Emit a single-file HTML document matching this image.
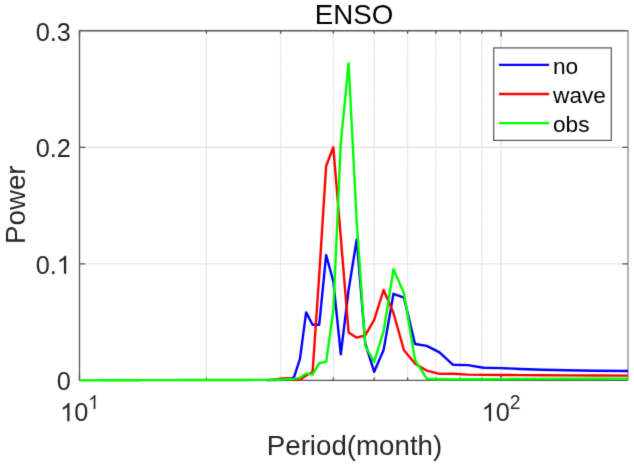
<!DOCTYPE html>
<html><head><meta charset="utf-8"><title>ENSO</title>
<style>html,body{margin:0;padding:0;background:#fff;}body{width:634px;height:466px;overflow:hidden;}svg{display:block;will-change:transform;}</style>
</head><body>
<svg width="634" height="466" viewBox="0 0 634 466">
<defs><filter id="bl" x="0" y="0" width="634" height="466" filterUnits="userSpaceOnUse" color-interpolation-filters="sRGB"><feConvolveMatrix order="3" kernelMatrix="0.01134 0.08382 0.01134 0.08382 0.61935 0.08382 0.01134 0.08382 0.01134" divisor="1" edgeMode="duplicate"/></filter></defs>
<g filter="url(#bl)"><rect width="634" height="466" fill="#fff"/>
<line x1="79.5" y1="263.85" x2="628.0" y2="263.85" stroke="#e6e6e6" stroke-width="1.4"/>
<line x1="79.5" y1="147.30" x2="628.0" y2="147.30" stroke="#e6e6e6" stroke-width="1.4"/>
<line x1="206.41" y1="30.8" x2="206.41" y2="380.4" stroke="#f2f2f2" stroke-width="1.1"/>
<line x1="206.41" y1="30.8" x2="206.41" y2="380.4" stroke="#e0e0e0" stroke-width="1.1" stroke-dasharray="1.5,1.3"/>
<line x1="280.65" y1="30.8" x2="280.65" y2="380.4" stroke="#f2f2f2" stroke-width="1.1"/>
<line x1="280.65" y1="30.8" x2="280.65" y2="380.4" stroke="#e0e0e0" stroke-width="1.1" stroke-dasharray="1.5,1.3"/>
<line x1="333.33" y1="30.8" x2="333.33" y2="380.4" stroke="#f2f2f2" stroke-width="1.1"/>
<line x1="333.33" y1="30.8" x2="333.33" y2="380.4" stroke="#e0e0e0" stroke-width="1.1" stroke-dasharray="1.5,1.3"/>
<line x1="374.19" y1="30.8" x2="374.19" y2="380.4" stroke="#f2f2f2" stroke-width="1.1"/>
<line x1="374.19" y1="30.8" x2="374.19" y2="380.4" stroke="#e0e0e0" stroke-width="1.1" stroke-dasharray="1.5,1.3"/>
<line x1="407.57" y1="30.8" x2="407.57" y2="380.4" stroke="#f2f2f2" stroke-width="1.1"/>
<line x1="407.57" y1="30.8" x2="407.57" y2="380.4" stroke="#e0e0e0" stroke-width="1.1" stroke-dasharray="1.5,1.3"/>
<line x1="435.79" y1="30.8" x2="435.79" y2="380.4" stroke="#f2f2f2" stroke-width="1.1"/>
<line x1="435.79" y1="30.8" x2="435.79" y2="380.4" stroke="#e0e0e0" stroke-width="1.1" stroke-dasharray="1.5,1.3"/>
<line x1="460.24" y1="30.8" x2="460.24" y2="380.4" stroke="#f2f2f2" stroke-width="1.1"/>
<line x1="460.24" y1="30.8" x2="460.24" y2="380.4" stroke="#e0e0e0" stroke-width="1.1" stroke-dasharray="1.5,1.3"/>
<line x1="481.81" y1="30.8" x2="481.81" y2="380.4" stroke="#f2f2f2" stroke-width="1.1"/>
<line x1="481.81" y1="30.8" x2="481.81" y2="380.4" stroke="#e0e0e0" stroke-width="1.1" stroke-dasharray="1.5,1.3"/>
<line x1="501.10" y1="30.8" x2="501.10" y2="380.4" stroke="#e6e6e6" stroke-width="1.4"/>
<path d="M79.50 30.75H628.00M79.50 30.10V381.05M79.50 380.40H628.00" fill="none" stroke="#555" stroke-width="1.3"/>
<path d="M628.00 30.10V381.05" fill="none" stroke="#8a8a8a" stroke-width="1.3"/>
<path d="M79.5 263.85h5.8M628.0 263.85h-5.8M79.5 147.30h5.8M628.0 147.30h-5.8M79.50 380.4v-6M79.50 30.8v6M501.10 380.4v-6M501.10 30.8v6M206.41 380.4v-3M206.41 30.8v3M280.65 380.4v-3M280.65 30.8v3M333.33 380.4v-3M333.33 30.8v3M374.19 380.4v-3M374.19 30.8v3M407.57 380.4v-3M407.57 30.8v3M435.79 380.4v-3M435.79 30.8v3M460.24 380.4v-3M460.24 30.8v3M481.81 380.4v-3M481.81 30.8v3" stroke="#555" stroke-width="1.3" fill="none"/>
<g fill="none" stroke-width="2.40" stroke-linejoin="round" stroke-linecap="butt">
<polyline points="266.56,380.15 271.72,380.10 277.03,380.00 282.49,379.80 288.13,379.50 293.94,377.30 299.95,358.90 306.15,312.40 312.58,324.70 319.24,324.70 326.15,255.00 333.33,281.50 340.80,354.40 348.60,290.00 356.73,239.50 365.25,343.30 374.19,371.80 383.58,350.10 393.48,293.80 403.94,297.60 415.04,344.00 426.86,345.90 439.49,352.40 453.06,364.80 467.72,365.10 483.65,367.70 501.10,368.10 520.39,369.00 541.96,369.80 566.41,370.30 594.63,370.70 628.01,371.00" stroke="#0000ff"/>
<polyline points="266.56,379.85 271.72,379.80 277.03,379.20 282.49,378.40 288.13,378.30 293.94,379.30 299.95,379.80 306.15,375.50 312.58,372.00 319.24,275.00 326.15,166.00 333.33,147.30 340.80,237.50 348.60,332.50 356.73,337.70 365.25,335.30 374.19,319.80 383.58,290.00 393.48,313.00 403.94,350.20 415.04,363.60 426.86,370.70 439.49,373.90 453.06,373.70 467.72,374.60 483.65,374.90 501.10,375.00 520.39,375.10 541.96,375.30 566.41,375.40 594.63,375.50 628.01,375.60" stroke="#ff0000"/>
<polyline points="79.50,380.40 81.34,380.39 83.20,380.38 85.08,380.38 86.97,380.37 88.89,380.36 90.83,380.35 92.79,380.34 94.77,380.34 96.77,380.33 98.79,380.32 100.84,380.31 102.91,380.31 105.00,380.30 107.12,380.29 109.26,380.28 111.42,380.27 113.62,380.27 115.84,380.26 118.08,380.25 120.36,380.24 122.66,380.23 124.99,380.23 127.36,380.22 129.75,380.21 132.17,380.20 134.63,380.19 137.12,380.19 139.65,380.18 142.21,380.17 144.81,380.16 147.44,380.16 150.11,380.15 152.83,380.14 155.58,380.13 158.38,380.12 161.21,380.12 164.10,380.11 167.03,380.10 170.00,380.09 173.03,380.08 176.11,380.08 179.24,380.07 182.42,380.06 185.66,380.05 188.96,380.04 192.32,380.04 195.75,380.03 199.23,380.02 202.79,380.01 206.41,380.00 210.11,380.00 213.89,379.99 217.74,379.98 221.68,379.97 225.71,379.97 229.82,379.96 234.03,379.95 238.34,379.94 242.75,379.93 247.27,379.93 251.91,379.92 256.66,379.91 261.55,379.90 266.56,379.85 271.72,379.80 277.03,379.70 282.49,379.50 288.13,379.20 293.94,378.90 299.95,377.90 306.15,373.40 312.58,374.60 319.24,363.10 326.15,361.80 333.33,310.60 340.80,143.20 348.60,63.40 356.73,222.00 365.25,346.00 374.19,362.00 383.58,331.20 393.48,269.30 403.94,293.30 415.04,360.00 426.86,378.80 439.49,379.20 453.06,379.40 467.72,379.20 483.65,379.20 501.10,379.10 520.39,379.00 541.96,378.90 566.41,378.80 594.63,378.70 628.01,378.60" stroke="#00ff00"/>
</g>
<g font-family="&quot;Liberation Sans&quot;, sans-serif" fill="#262626">
<text x="35.63" y="40.65" font-size="25.30">0.3</text>
<text x="35.63" y="157.20" font-size="25.30">0.2</text>
<text x="35.63" y="273.75" font-size="25.30">0.</text>
<path transform="translate(56.73,273.75) scale(0.01235,-0.01235)" d="M763 0L583 0L583 1147Q518 1085 415 1024.5Q312 964 223 931L223 1105Q374 1176 480.5 1271Q587 1366 647 1466L763 1466Z"/>
<text x="56.73" y="390.30" font-size="25.30">0</text>
<path transform="translate(60.06,421.20) scale(0.01235,-0.01235)" d="M763 0L583 0L583 1147Q518 1085 415 1024.5Q312 964 223 931L223 1105Q374 1176 480.5 1271Q587 1366 647 1466L763 1466Z"/>
<text x="74.13" y="421.20" font-size="25.30">0</text>
<path transform="translate(88.20,408.90) scale(0.00942,-0.00942)" d="M763 0L583 0L583 1147Q518 1085 415 1024.5Q312 964 223 931L223 1105Q374 1176 480.5 1271Q587 1366 647 1466L763 1466Z"/>
<path transform="translate(481.66,421.20) scale(0.01235,-0.01235)" d="M763 0L583 0L583 1147Q518 1085 415 1024.5Q312 964 223 931L223 1105Q374 1176 480.5 1271Q587 1366 647 1466L763 1466Z"/>
<text x="495.73" y="421.20" font-size="25.30">0</text>
<text x="509.80" y="408.90" font-size="19.30">2</text>
<text x="354" y="23.6" font-size="27.7" text-anchor="middle" fill="#000">ENSO</text>
<text x="354.5" y="455.2" font-size="27.7" text-anchor="middle">Period(month)</text>
<text transform="translate(25,204.7) rotate(-90)" font-size="27.7" text-anchor="middle">Power</text>
</g>
<rect x="493.7" y="47.9" width="117.6" height="92.5" fill="#fff" stroke="#555" stroke-width="1.2"/>
<line x1="499" y1="64.90" x2="549.1" y2="64.90" stroke="#0000ff" stroke-width="2.40"/>
<text x="553" y="73.90" font-size="22.7" font-family="&quot;Liberation Sans&quot;, sans-serif" fill="#000">no</text>
<line x1="499" y1="94.00" x2="549.1" y2="94.00" stroke="#ff0000" stroke-width="2.40"/>
<text x="553" y="103.00" font-size="22.7" font-family="&quot;Liberation Sans&quot;, sans-serif" fill="#000">wave</text>
<line x1="499" y1="123.10" x2="549.1" y2="123.10" stroke="#00ff00" stroke-width="2.40"/>
<text x="553" y="132.10" font-size="22.7" font-family="&quot;Liberation Sans&quot;, sans-serif" fill="#000">obs</text>
</g></svg>
</body></html>
